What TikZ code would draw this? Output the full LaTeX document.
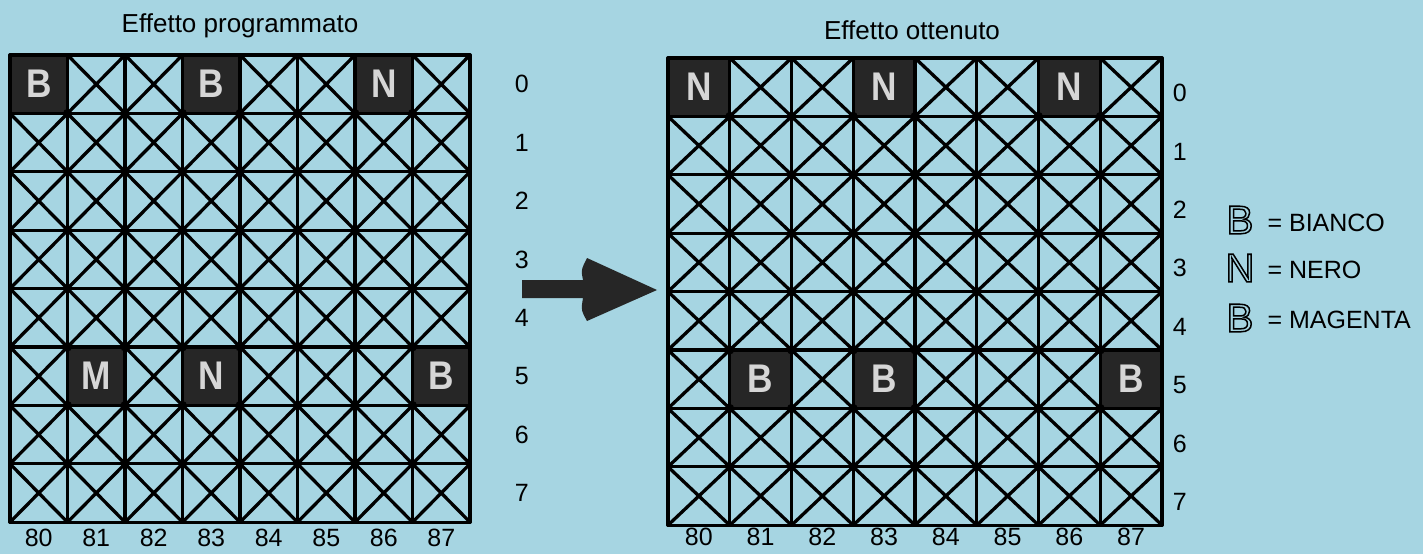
\documentclass[tikz,border=0pt]{standalone}
\usepackage{fontspec}
\setmainfont{Liberation Sans}

\definecolor{bgblue}{RGB}{166,213,226}
\definecolor{cellgray}{RGB}{38,38,38}
\definecolor{lettergray}{RGB}{214,214,214}

% hollow letters for the legend
\newcommand{\hollowletter}[1]{\special{pdf:literal direct 1 Tr 1.5 w}#1\special{pdf:literal direct 0 Tr}}

\begin{document}
\begin{tikzpicture}[x=1pt, y=-1pt,
    gridline/.style={line width=3.3pt, line cap=round},
    darkcell/.style={fill=cellgray},
    cellletter/.style={text=lettergray, font=\fontsize{40}{40}\selectfont\bfseries, xscale=0.88},
    numlabel/.style={font=\fontsize{25}{25}\selectfont},
    titlelabel/.style={font=\fontsize{26}{26}\selectfont},
    legendkey/.style={font=\fontsize{40}{40}\selectfont},
    legendtext/.style={font=\fontsize{25}{25}\selectfont, anchor=west}]
    \useasboundingbox[fill=bgblue] (0,0) rectangle (1423,554);

    % Titles
    \node[titlelabel] (titleleft) at (240,26) {Effetto programmato};
    \node[titlelabel] (titleright) at (912,30) {Effetto ottenuto};

    % Left grid
    \begin{scope}[shift={(10,55)}, x=57.5pt, y=-58.4pt]
        \foreach \r in {0,...,7}
            \foreach \c in {0,...,7}
                \draw[gridline] (\c,\r) -- (\c+1,\r+1) (\c+1,\r) -- (\c,\r+1);
        \foreach \c/\r in {0/0,3/0,6/0,1/5,3/5,7/5}
            \fill[darkcell] (\c,\r) rectangle (\c+1,\r+1);
        \foreach \i in {0,...,8} {
            \draw[gridline] (\i,0) -- (\i,8);
            \draw[gridline] (0,\i) -- (8,\i);
        }
        \foreach \c in {1,...,7}
            \foreach \r in {1,...,7}
                \fill (\c,\r) circle[radius=4.5pt];
        \foreach \c/\r/\t in {0/0/B,3/0/B,6/0/N,1/5/M,3/5/N,7/5/B}
            \node[cellletter] (pgm\c\r) at (\c+.5,\r+.5) {\t};
        \foreach \r in {0,...,7}
            \node[numlabel] (prow\r) at (8.9,\r+.5) {\r};
        \foreach \c in {0,...,7}
            \node[numlabel] (pcol\c) at (\c+.5,8.27) {8\c};
    \end{scope}

    % Right grid
    \begin{scope}[shift={(668,58)}, x=61.75pt, y=-58.4pt]
        \foreach \r in {0,...,7}
            \foreach \c in {0,...,7}
                \draw[gridline] (\c,\r) -- (\c+1,\r+1) (\c+1,\r) -- (\c,\r+1);
        \foreach \c/\r in {0/0,3/0,6/0,1/5,3/5,7/5}
            \fill[darkcell] (\c,\r) rectangle (\c+1,\r+1);
        \foreach \i in {0,...,8} {
            \draw[gridline] (\i,0) -- (\i,8);
            \draw[gridline] (0,\i) -- (8,\i);
        }
        \foreach \c in {1,...,7}
            \foreach \r in {1,...,7}
                \fill (\c,\r) circle[radius=4.5pt];
        \foreach \c/\r/\t in {0/0/N,3/0/N,6/0/N,1/5/B,3/5/B,7/5/B}
            \node[cellletter] (got\c\r) at (\c+.5,\r+.5) {\t};
        \foreach \r in {0,...,7}
            \node[numlabel] (grow\r) at (8.29,\r+.6) {\r};
        \foreach \c in {0,...,7}
            \node[numlabel] (gcol\c) at (\c+.5,8.2) {8\c};
    \end{scope}

    % Arrow between the grids
    \coordinate (arrowtail) at (522,289);
    \coordinate (arrowtip) at (657,290);
    \fill[cellgray] ([yshift=9pt]arrowtail) -- (583,280)
        .. controls (581,270) .. (587,258) -- (arrowtip) -- (587,321)
        .. controls (581,310) .. (583,298) -- ([yshift=-9pt]arrowtail) -- cycle;

    % Legend
    \node[legendkey] (keyB) at (1240,220) {\hollowletter{B}};
    \node[legendkey] (keyN) at (1240,268) {\hollowletter{N}};
    \node[legendkey] (keyM) at (1240,318) {\hollowletter{B}};
    \node[legendtext] (txtB) at (1264,223) {= BIANCO};
    \node[legendtext] (txtN) at (1264,270) {= NERO};
    \node[legendtext] (txtM) at (1264,320) {= MAGENTA};
\end{tikzpicture}
\end{document}
